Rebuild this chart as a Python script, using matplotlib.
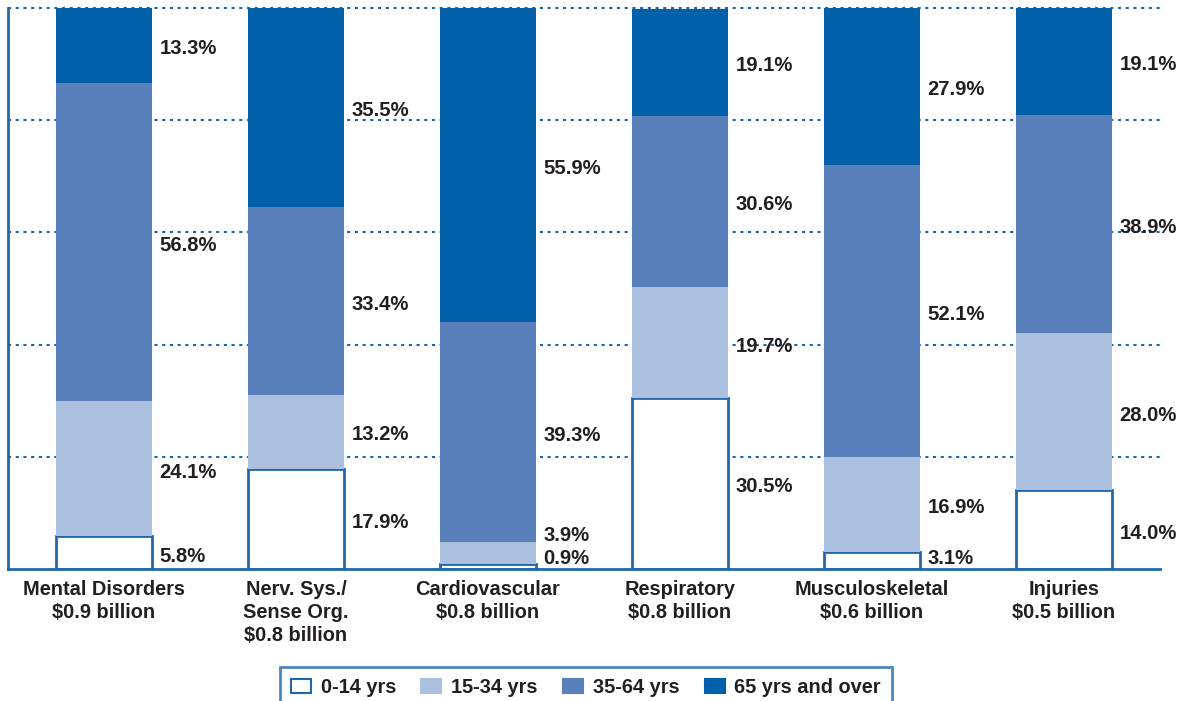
import numpy as np
import matplotlib.pyplot as plt
from matplotlib.patches import Patch

plt.rcParams['font.family'] = ['Liberation Sans', 'DejaVu Sans']
plt.rcParams['font.weight'] = 'bold'

categories = ["Mental Disorders\n\\$0.9 billion",
              "Nerv. Sys./\nSense Org.\n\\$0.8 billion",
              "Cardiovascular\n\\$0.8 billion",
              "Respiratory\n\\$0.8 billion",
              "Musculoskeletal\n\\$0.6 billion",
              "Injuries\n\\$0.5 billion"]
groups = ["0-14 yrs", "15-34 yrs", "35-64 yrs", "65 yrs and over"]
age_0_14 = [5.8, 17.9, 0.9, 30.5, 3.1, 14.0]
age_15_34 = [24.1, 13.2, 3.9, 19.7, 16.9, 28.0]
age_35_64 = [56.8, 33.4, 39.3, 30.6, 52.1, 38.9]
age_65_up = [13.3, 35.5, 55.9, 19.1, 27.9, 19.1]

blue = "#1f68ae"
txt = "#231f20"
fills = ["white", "#adbfdf", "#5a80bc", "#0060a8"]

fig = plt.figure(figsize=(11.81, 7.01), dpi=100)
ax = fig.add_axes([8 / 1181, 132 / 701, 1152 / 1181, 561 / 701])

series = [age_0_14, age_15_34, age_35_64, age_65_up]
x = np.arange(len(categories))
bottom = np.zeros(len(categories))
label_y = [[] for _ in categories]
for vals, fc in zip(series, fills):
    vals = np.array(vals)
    if fc == "white":
        ax.bar(x, vals, 0.5, bottom=bottom, facecolor=fc, edgecolor=blue,
               linewidth=2, zorder=3)
    else:
        ax.bar(x, vals, 0.5, bottom=bottom, color=fc, linewidth=0, zorder=3)
    for i in range(len(x)):
        # label beside the segment middle, pushed up if it would collide
        c = bottom[i] + vals[i] / 2
        prev = label_y[i][-1] if label_y[i] else -10
        c = max(c, 2.4, prev + 4.2)
        label_y[i].append(c)
        ax.text(x[i] + 0.29, c - 0.6, f"{vals[i]:.1f}%", ha="left", va="center",
                fontsize=14.6, fontweight="bold", color=txt, zorder=4)
    bottom += vals

ax.set_xlim(-0.5, 5.5)
ax.set_ylim(0, 100)
ax.set_yticks([])
for y in [20, 40, 60, 80, 100]:
    ax.axhline(y, color=blue, linestyle=(0, (1.5, 2.2)), linewidth=1.5,
               zorder=1, clip_on=False)
ax.set_xticks(x)
ax.set_xticklabels(categories, fontsize=14.4, fontweight="bold", color=txt,
                   linespacing=1.25)
ax.tick_params(axis="x", length=0, pad=8)
for s in ["top", "right"]:
    ax.spines[s].set_visible(False)
for s in ["left", "bottom"]:
    ax.spines[s].set_color(blue)
    ax.spines[s].set_linewidth(2)
    ax.spines[s].set_zorder(5)

handles = [Patch(facecolor=fc, edgecolor=(blue if fc == "white" else fc),
                 linewidth=1.5) for fc in fills]
leg = fig.legend(handles, groups, loc="upper center", ncol=4,
                 bbox_to_anchor=(586 / 1181, 1 - 667 / 701),
                 fontsize=14.4, frameon=True, fancybox=False,
                 handlelength=1.0, handleheight=0.65, handletextpad=0.5,
                 columnspacing=1.25, borderpad=0.55, borderaxespad=0)
leg.get_frame().set_edgecolor(blue)
leg.get_frame().set_linewidth(2)
for t in leg.get_texts():
    t.set_color(txt)
    t.set_fontweight("bold")

fig.savefig("out.png", dpi=100)
